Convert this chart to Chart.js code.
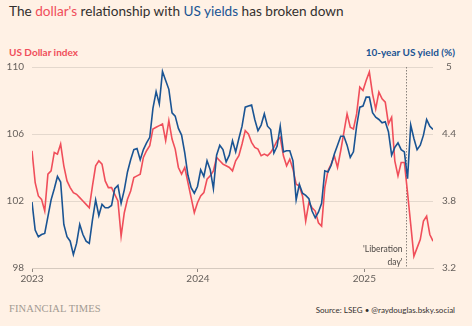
<!DOCTYPE html>
<html>
<head>
<meta charset="utf-8">
<script src="https://cdn.jsdelivr.net/npm/chart.js@4.4.0/dist/chart.umd.min.js"></script>
<style>
  body { margin: 0; background: #fff1e5; }
  #wrap { position: relative; width: 472px; height: 326px; overflow: hidden; font-family: Lato, 'Noto Sans', sans-serif; color: #33302e; }
  #chart { position: absolute; left: 0; top: 0; }
  .title { position: absolute; left: 9px; top: 2px; font-size: 13.6px; line-height: 18px; white-space: nowrap; }
  .red { color: #f04e5a; }
  .blue { color: #1a5493; }
  .axis-title { position: absolute; top: 45px; font-size: 10px; font-weight: 700; line-height: 14px; white-space: nowrap; }
  .ft { position: absolute; left: 9px; top: 302px; font-family: 'Liberation Serif', 'DejaVu Serif', serif; font-size: 10.5px; color: #a29a92; line-height: 14px; letter-spacing: 0.1px; }
  .source { position: absolute; right: 17px; top: 304px; font-size: 8px; line-height: 12px; white-space: nowrap; }
</style>
</head>
<body>
<div id="wrap">
  <div class="title">The <span class="red">dollar's</span> relationship with <span class="blue">US yields</span> has broken down</div>
  <div class="axis-title red" style="left:9px">US Dollar index</div>
  <div class="axis-title blue" style="right:17px">10-year US yield (%)</div>
  <canvas id="chart" width="472" height="300"></canvas>
  <div class="ft">FINANCIAL TIMES</div>
  <div class="source">Source: LSEG &bull; @raydouglas.bsky.social</div>
</div>
<script>
// weekly readings, starting first week of Jan 2023
const startDay = 0;
const stepDays = 7;
const dollarIndex = [
  105.0, 103.1, 102.3, 102.1, 101.4, 103.6, 103.8, 104.9, 104.8, 105.4,
  104.1, 103.2, 102.8, 102.5, 102.4, 102.2, 102.0, 101.8, 101.6, 102.9,
  104.1, 104.4, 104.2, 103.2, 102.8, 102.8, 102.4, 102.0, 99.9, 101.3,
  102.1, 102.6, 103.4, 103.5, 103.6, 104.6, 105.0, 105.3, 106.3, 106.4,
  106.5, 106.6, 105.6, 106.8, 105.7, 105.1, 104.0, 103.6, 104.0, 103.1,
  102.2, 101.3, 101.9, 102.3, 102.5, 103.3, 103.5, 103.8, 104.6, 104.4,
  104.2, 104.1, 104.0, 103.8, 104.4, 104.7, 105.4, 106.2, 106.0, 105.5,
  105.2, 105.1, 104.7, 104.8, 104.7, 104.9, 105.2, 105.6, 105.8, 104.7,
  104.1, 104.5, 103.9, 103.0, 102.9, 102.3, 100.8, 101.9, 101.6, 101.4,
  100.7, 100.5, 102.8, 103.8, 104.2, 104.7, 104.0, 105.0, 106.1, 107.2,
  106.4, 106.3, 107.2, 108.8, 108.6, 109.2, 109.7, 108.4, 107.5, 108.5,
  108.1, 107.9, 106.6, 107.0, 104.4, 103.5, 104.3, 104.3, 102.5, 100.6,
  98.7, 99.2, 99.7, 100.8, 101.1, 100.0, 99.6
];
const usYield = [
  3.79, 3.54, 3.48, 3.50, 3.51, 3.66, 3.81, 3.91, 4.02, 3.97,
  3.59, 3.48, 3.44, 3.32, 3.42, 3.59, 3.50, 3.44, 3.42, 3.63,
  3.81, 3.67, 3.77, 3.74, 3.74, 3.76, 3.91, 3.94, 3.78, 3.90,
  4.06, 4.17, 4.26, 4.27, 4.17, 4.26, 4.32, 4.37, 4.63, 4.78,
  4.67, 4.96, 4.88, 4.80, 4.59, 4.56, 4.45, 4.39, 4.23, 4.03,
  3.92, 3.87, 3.93, 4.08, 4.02, 4.16, 4.08, 3.91, 4.21, 4.30,
  4.26, 4.15, 4.21, 4.34, 4.24, 4.36, 4.47, 4.64, 4.65, 4.66,
  4.53, 4.43, 4.48, 4.58, 4.47, 4.44, 4.23, 4.29, 4.47, 4.24,
  4.25, 4.25, 4.16, 3.81, 3.95, 3.87, 3.85, 3.82, 3.71, 3.65,
  3.70, 3.78, 4.07, 4.06, 4.12, 4.22, 4.30, 4.38, 4.38, 4.30,
  4.19, 4.24, 4.47, 4.64, 4.65, 4.73, 4.73, 4.59, 4.55, 4.53,
  4.50, 4.51, 4.42, 4.21, 4.28, 4.32, 4.26, 4.24, 4.00, 4.48,
  4.36, 4.26, 4.30, 4.39, 4.53, 4.47, 4.44
];
const yearLabels = ['2023', '2024', '2025'];
const yearDays = [0, 365, 731];
const dollarTicks = [98, 102, 106, 110];
const yieldTicks = [3.2, 3.8, 4.4, 5];
const liberationDay = 822; // 2 April 2025
const lastDay = 882;

const days = dollarIndex.map((_, i) => startDay + i * stepDays);

const liberationLine = {
  id: 'liberationLine',
  beforeDatasetsDraw(chart) {
    const { ctx, chartArea, scales } = chart;
    const x = Math.round(scales.x.getPixelForValue(liberationDay)) + 0.5;
    ctx.save();
    ctx.strokeStyle = '#8a837d';
    ctx.lineWidth = 1;
    ctx.setLineDash([1.5, 1.5]);
    ctx.beginPath();
    ctx.moveTo(x, chartArea.top);
    ctx.lineTo(x, chartArea.bottom);
    ctx.stroke();
    ctx.setLineDash([]);
    ctx.fillStyle = '#4d4845';
    ctx.font = '8.5px Lato, "Noto Sans", sans-serif';
    ctx.textAlign = 'right';
    ctx.fillText("'Liberation", x - 4, chartArea.bottom - 16);
    ctx.fillText("day'", x - 4, chartArea.bottom - 3);
    ctx.restore();
  }
};

new Chart(document.getElementById('chart'), {
  type: 'line',
  data: {
    datasets: [{
      label: '10-year US yield',
      data: days.map((d, i) => ({ x: d, y: usYield[i] })),
      yAxisID: 'yRight',
      borderColor: '#1a5493',
      borderWidth: 1.6,
      pointRadius: 0,
      tension: 0
    }, {
      label: 'US Dollar index',
      data: days.map((d, i) => ({ x: d, y: dollarIndex[i] })),
      yAxisID: 'yLeft',
      borderColor: '#f04e5a',
      borderWidth: 1.6,
      pointRadius: 0,
      tension: 0
    }]
  },
  options: {
    responsive: false,
    animation: false,
    layout: { padding: { top: 67, left: 0, right: 0, bottom: 0 } },
    plugins: { legend: { display: false }, tooltip: { enabled: false } },
    scales: {
      x: {
        type: 'linear',
        min: 0,
        max: lastDay,
        afterBuildTicks: scale => { scale.ticks = yearDays.map(v => ({ value: v })); },
        afterFit: scale => { scale.height = 32; },
        ticks: {
          autoSkip: false,
          maxRotation: 0,
          padding: 1,
          color: '#66605c',
          font: { family: 'Lato', size: 10 },
          callback: v => yearLabels[yearDays.indexOf(v)]
        },
        grid: { drawOnChartArea: false, drawTicks: true, tickLength: 4, color: '#8f8780' },
        border: { display: true, color: '#d6cabf' }
      },
      yLeft: {
        position: 'left',
        min: 98,
        max: 110,
        afterBuildTicks: scale => { scale.ticks = dollarTicks.map(v => ({ value: v })); },
        afterFit: scale => { scale.width = 32; },
        ticks: { padding: 8, color: '#66605c', font: { family: 'Lato', size: 10 } },
        grid: { color: '#e4d8cd', drawTicks: false },
        border: { display: false }
      },
      yRight: {
        position: 'right',
        min: 3.2,
        max: 5,
        afterBuildTicks: scale => { scale.ticks = yieldTicks.map(v => ({ value: v })); },
        afterFit: scale => { scale.width = 39; },
        ticks: {
          padding: 1,
          crossAlign: 'center',
          color: '#66605c',
          font: { family: 'Lato', size: 10 },
          callback: v => String(+v.toFixed(1))
        },
        grid: { display: false },
        border: { display: false }
      }
    }
  },
  plugins: [liberationLine]
});
</script>
</body>
</html>
